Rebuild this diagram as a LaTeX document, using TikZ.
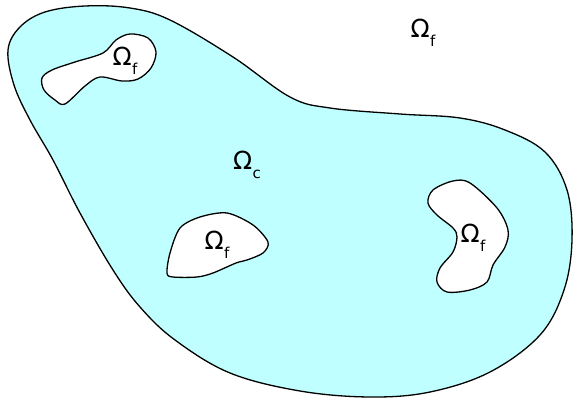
\documentclass[tikz,border=0pt]{standalone}
\usepackage{fontspec}
\setmainfont{DejaVu Sans}
\definecolor{cfill}{RGB}{191,255,255}
\newcommand\omsub[1]{Ω\kern0.02em\raisebox{-0.34em}{\fontsize{15}{15}\selectfont #1}}
\begin{document}
\begin{tikzpicture}[x=1pt,y=-1pt,
  region/.style={draw=black,line width=1.3pt,line join=round},
  lab/.style={inner sep=0pt,font=\fontsize{25}{25}\selectfont}]
\useasboundingbox (0,0) rectangle (574,398);
% outer region
\draw[region,fill=cfill] plot[smooth cycle,tension=0.6] coordinates {
 (8,50) (20,27) (45,12) (85,6) (130,8) (170,20) (233,57) (290,97) (330,108)
 (400,114) (460,118) (505,130) (545,152) (567,190) (572,240) (564,290)
 (540,335) (490,372) (430,392) (370,397) (300,391) (230,373) (175,340)
 (140,307) (113,270) (80,213) (53,160) (30,120) (14,85)};
% hole 1
\draw[region,fill=white] plot[smooth cycle,tension=0.55] coordinates {
 (42,78) (52,70) (75,62) (103,53) (116,40) (130,34) (148,38) (156,52)
 (151,68) (138,79) (122,81) (100,77) (85,86) (65,104) (55,100) (44,90)};
% hole 2
\draw[region,fill=white] plot[smooth cycle,tension=0.5] coordinates {
 (167,273) (170,253) (180,228) (200,217) (227,213) (253,225) (268,242)
 (263,253) (247,260) (236,263) (213,273) (197,277) (173,277)};
% hole 3
\draw[region,fill=white] plot[smooth cycle,tension=0.55] coordinates {
 (433,190) (453,181) (470,183) (497,208) (508,230) (505,247) (493,265)
 (487,282) (470,290) (447,292) (437,282) (440,268) (453,252) (457,237)
 (453,228) (437,215) (428,203)};
\node[lab] (of0) at (423,33) {\omsub{f}};
\node[lab] (of1) at (125,61) {\omsub{f}};
\node[lab] (oc) at (247,165) {\omsub{c}};
\node[lab] (of2) at (217,245) {\omsub{f}};
\node[lab] (of3) at (473,238) {\omsub{f}};
\end{tikzpicture}
\end{document}
